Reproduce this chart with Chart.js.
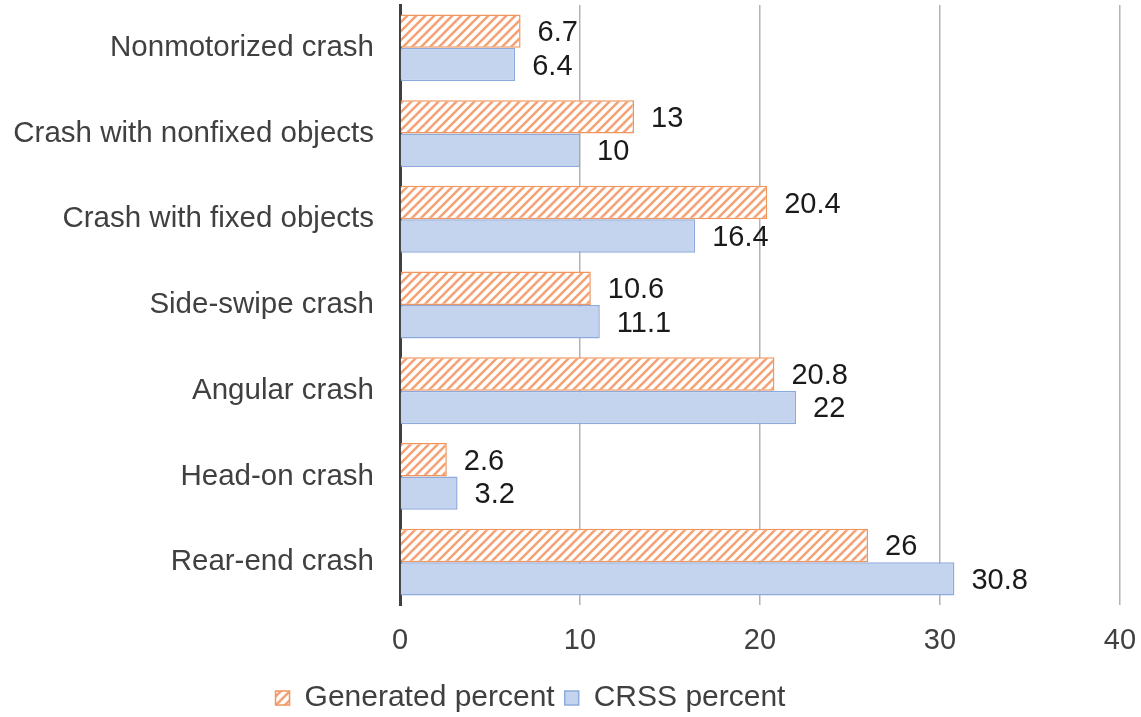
<!DOCTYPE html>
<html>
<head>
<meta charset="utf-8">
<script src="https://cdn.jsdelivr.net/npm/chart.js@4"></script>
<style>
  html, body { margin: 0; padding: 0; background: #fff; }
  #wrap { width: 1141px; height: 717px; }
</style>
</head>
<body>
<div id="wrap"><canvas id="chartCrash" width="1141" height="717"></canvas></div>
<script>
// datos
const categorias = ["Nonmotorized crash", "Crash with nonfixed objects", "Crash with fixed objects",
  "Side-swipe crash", "Angular crash", "Head-on crash", "Rear-end crash"];
const generated = [6.7, 13, 20.4, 10.6, 20.8, 2.6, 26];
const crss = [6.4, 10, 16.4, 11.1, 22, 3.2, 30.8];
const ticksX = [0, 10, 20, 30, 40];

// patron rayado naranja
function hatch() {
    const c = document.createElement("canvas");
    c.width = 9; c.height = 9;
    const g = c.getContext("2d");
    g.fillStyle = "#ffffff";
    g.fillRect(0, 0, 9, 9);
    g.strokeStyle = "#f5a274";
    g.lineWidth = 2.6;
    g.beginPath();
    g.moveTo(-2, 11); g.lineTo(11, -2);
    g.moveTo(-2, 2); g.lineTo(2, -2);
    g.moveTo(7, 11); g.lineTo(11, 7);
    g.stroke();
    return g.createPattern(c, "repeat");
}

// etiquetas de valores
const valueLabels = {
    id: "valueLabels",
    afterDatasetsDraw(chart) {
        const ctx = chart.ctx;
        ctx.save();
        ctx.font = "29px 'Liberation Sans', Arial, sans-serif";
        ctx.fillStyle = "#1a1a1a";
        ctx.textBaseline = "middle";
        ctx.textAlign = "left";
        chart.data.datasets.forEach((ds, i) => {
            chart.getDatasetMeta(i).data.forEach((bar, j) => {
                ctx.fillText(String(ds.data[j]), bar.x + 17, bar.y + 2);
            });
        });
        ctx.restore();
    }
};

// mover la leyenda un poco a la izquierda y abajo
const legendShift = {
    id: "legendShift",
    afterLayout(chart) {
        chart.legend.left -= 40;
        chart.legend.right -= 40;
        chart.legend.top += 6;
        chart.legend.bottom += 6;
    }
};

Chart.defaults.font.family = "'Liberation Sans', Arial, sans-serif";
Chart.defaults.color = "#404040";

new Chart(document.getElementById("chartCrash"), {
    type: 'bar',
    data: {
        labels: categorias,
        datasets: [{
            label: "Generated percent",
            data: generated,
            backgroundColor: hatch(),
            borderColor: "#f0955e",
            borderWidth: 1.5,
            categoryPercentage: 0.78,
            barPercentage: 1
        }, {
            label: "CRSS percent",
            data: crss,
            backgroundColor: "#c5d4ee",
            borderColor: "#8eaadc",
            borderWidth: 1.5,
            categoryPercentage: 0.78,
            barPercentage: 1
        }]
    },
    options: {
        indexAxis: 'y',
        responsive: false,
        animation: false,
        layout: { padding: { top: 5, right: 0, left: 0, bottom: 0 } },
        scales: {
            x: {
                min: 0, max: 40,
                afterBuildTicks: s => { s.ticks = ticksX.map(v => ({ value: v })); },
                grid: { color: "#b3b3b3", lineWidth: 1.5, drawTicks: false },
                border: { display: false },
                ticks: { font: { size: 29 }, color: "#404040", padding: 19 },
                afterFit: s => { s.height = 62; s.paddingRight = 21; }
            },
            y: {
                grid: { display: false, drawTicks: false },
                border: { display: true, color: "#404040", width: 3 },
                ticks: { font: { size: 29.5 }, color: "#404040", padding: 26 },
                afterFit: s => { s.width = 400; s.paddingTop = 0; s.paddingBottom = 0; }
            }
        },
        plugins: {
            legend: {
                position: 'bottom',
                labels: { boxWidth: 14, boxHeight: 14, font: { size: 30 }, color: "#404040", padding: 10 }
            },
            tooltip: { enabled: false }
        }
    },
    plugins: [valueLabels, legendShift]
});
</script>
</body>
</html>
